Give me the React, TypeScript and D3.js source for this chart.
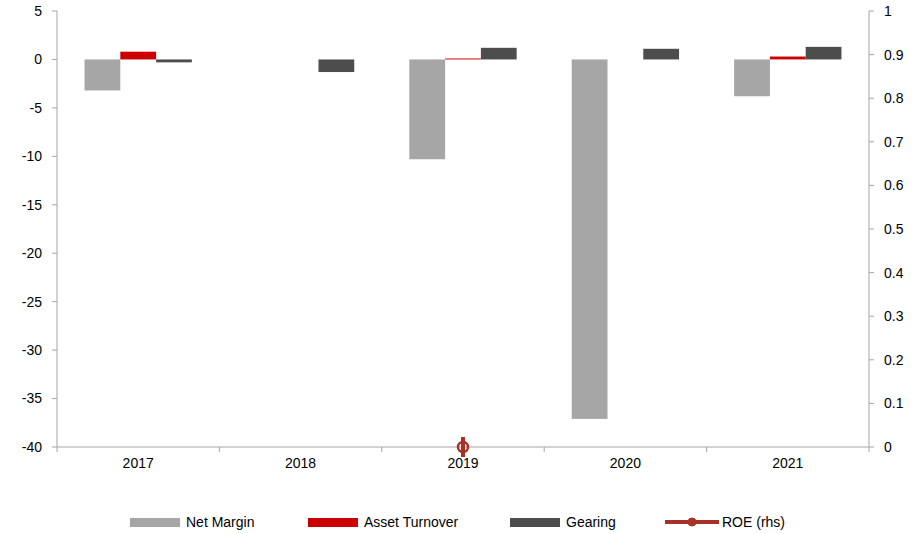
import * as d3 from 'd3';

const years = ['2017', '2018', '2019', '2020', '2021'];
const netMargin = [-3.2, 0, -10.3, -37.1, -3.8];
const assetTurnover = [0.8, 0, 0.1, 0, 0.3];
const gearing = [-0.3, -1.3, 1.2, 1.1, 1.3];
const roe = [null, null, 0, null, null];
const leftTicks = [5, 0, -5, -10, -15, -20, -25, -30, -35, -40];
const rightTicks = [1, 0.9, 0.8, 0.7, 0.6, 0.5, 0.4, 0.3, 0.2, 0.1, 0];

const W = 922, H = 534;
const m = { left: 57, right: 53, top: 11, bottom: 87 };
const font = '"Liberation Sans Narrow", "Arial Narrow", Arial, "Liberation Sans", sans-serif';

const series = [
  { name: 'Net Margin', values: netMargin, color: '#A6A6A6' },
  { name: 'Asset Turnover', values: assetTurnover, color: '#CC0000' },
  { name: 'Gearing', values: gearing, color: '#4D4D4D' },
];

export default function App() {
  const x = d3.scaleBand().domain(years).range([m.left, W - m.right]);
  const inner = d3.scaleBand().domain(series.map(s => s.name)).range([0, x.bandwidth()]).paddingInner(0).paddingOuter(0.77);
  const y = d3.scaleLinear().domain([-40, 5]).range([H - m.bottom, m.top]);
  const y2 = d3.scaleLinear().domain([0, 1]).range([H - m.bottom, m.top]);
  const bottom = H - m.bottom;
  const axisColor = '#A6A6A6';
  const legendX = [130, 308, 510, 665];

  return (
    <svg width={W} height={H} style={{ position: 'absolute', left: 0, top: 0, fontFamily: font }}>
      <rect width={W} height={H} fill="#fff" />
      {series.map(s =>
        s.values.map((v, i) => (
          <rect key={s.name + i} x={(x(years[i]) ?? 0) + (inner(s.name) ?? 0)} width={inner.bandwidth()}
            y={y(Math.max(0, v))} height={Math.abs(y(v) - y(0))} fill={s.color} />
        ))
      )}
      <line x1={m.left} x2={m.left} y1={m.top} y2={bottom} stroke={axisColor} />
      <line x1={W - m.right} x2={W - m.right} y1={m.top} y2={bottom} stroke={axisColor} />
      <line x1={m.left} x2={W - m.right} y1={bottom} y2={bottom} stroke={axisColor} />
      {leftTicks.map(t => (
        <g key={'l' + t}>
          <line x1={m.left - 5} x2={m.left} y1={y(t)} y2={y(t)} stroke={axisColor} />
          <text x={m.left - 15} y={y(t)} dy="0.35em" textAnchor="end" fontSize={14}>{t}</text>
        </g>
      ))}
      {rightTicks.map(t => (
        <g key={'r' + t}>
          <line x1={W - m.right} x2={W - m.right + 5} y1={y2(t)} y2={y2(t)} stroke={axisColor} />
          <text x={W - m.right + 15} y={y2(t)} dy="0.35em" fontSize={14}>{t}</text>
        </g>
      ))}
      {years.map((yr, i) => (
        <g key={yr}>
          <line x1={x(yr)} x2={x(yr)} y1={bottom} y2={bottom + 5} stroke={axisColor} />
          {i === years.length - 1 && <line x1={W - m.right} x2={W - m.right} y1={bottom} y2={bottom + 5} stroke={axisColor} />}
          <text x={(x(yr) ?? 0) + x.bandwidth() / 2} y={bottom + 21} textAnchor="middle" fontSize={14}>{yr}</text>
        </g>
      ))}
      {roe.map((v, i) => v === null ? null : (
        <g key={'roe' + i}>
          <line x1={(x(years[i]) ?? 0) + x.bandwidth() / 2} x2={(x(years[i]) ?? 0) + x.bandwidth() / 2}
            y1={y2(v) - 10} y2={y2(v) + 10} stroke="#A93226" strokeWidth={4} />
          <circle cx={(x(years[i]) ?? 0) + x.bandwidth() / 2} cy={y2(v)} r={5} fill="none" stroke="#A93226" strokeWidth={2.5} />
        </g>
      ))}
      {series.map((s, i) => (
        <g key={'lg' + s.name}>
          <rect x={legendX[i]} y={518} width={50} height={9} fill={s.color} />
          <text x={legendX[i] + 56} y={522} dy="0.35em" fontSize={14}>{s.name}</text>
        </g>
      ))}
      <line x1={legendX[3]} x2={legendX[3] + 54} y1={522} y2={522} stroke="#A93226" strokeWidth={4} />
      <circle cx={legendX[3] + 27} cy={522} r={4} fill="#A93226" stroke="#A93226" />
      <text x={legendX[3] + 57} y={522} dy="0.35em" fontSize={14}>ROE (rhs)</text>
    </svg>
  );
}
